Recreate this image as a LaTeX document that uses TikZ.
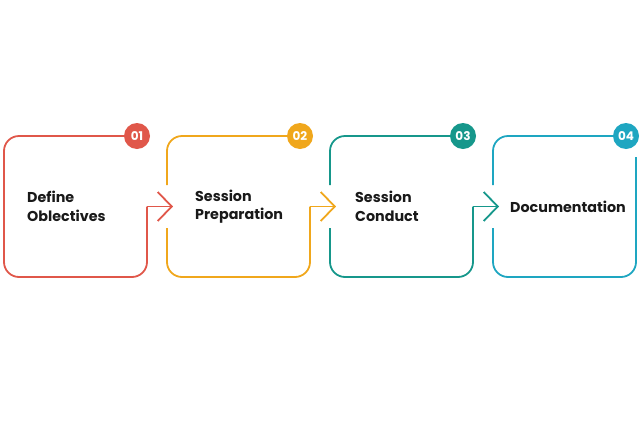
\documentclass[tikz,border=0pt]{standalone}
\usepackage{fontspec}
\setmainfont{Poppins}
\usepackage{tikz}
\usetikzlibrary{shapes,arrows.meta,positioning}
\definecolor{stepred}{HTML}{E0574A}
\definecolor{steporange}{HTML}{F0A71C}
\definecolor{stepteal}{HTML}{16978B}
\definecolor{stepblue}{HTML}{1EA6C1}
\tikzstyle{box} = [rectangle, minimum width=143pt, minimum height=141pt, inner sep=0pt, outer sep=0pt]
\tikzstyle{edge} = [line width=1.8pt, rounded corners=15pt]
\tikzstyle{arrow} = [line width=1.8pt, -{Straight Barb[length=14pt, width=29pt]}]
\tikzstyle{num} = [circle, minimum size=26pt, inner sep=0pt, text=white, font=\bfseries\fontsize{12}{12}\selectfont]
\tikzstyle{steptext} = [inner sep=0pt, align=left, text=black!90, font=\bfseries\fontsize{14.3}{18.5}\selectfont]

\begin{document}
\begin{tikzpicture}[x=1pt, y=-1pt, node distance=20pt]
        \useasboundingbox (0,0) rectangle (640,426);

        \node (b1) [box] at (75.5,206.5) {};
        \node (b2) [box, right=of b1] {};
        \node (b3) [box, right=of b2] {};
        \node (b4) [box, right=of b3] {};

        % box outlines
        \draw[edge, stepred] (b1.east) -- (b1.south east) -- (b1.south west) -- (b1.north west) -- ([xshift=-10pt]b1.north east);
        \draw[edge, steporange] (b2.east) -- (b2.south east) -- (b2.south west) -- ([yshift=-21.5pt]b2.west);
        \draw[edge, steporange] ([yshift=21.5pt]b2.west) -- (b2.north west) -- ([xshift=-10pt]b2.north east);
        \draw[edge, stepteal] (b3.east) -- (b3.south east) -- (b3.south west) -- ([yshift=-21.5pt]b3.west);
        \draw[edge, stepteal] ([yshift=21.5pt]b3.west) -- (b3.north west) -- ([xshift=-10pt]b3.north east);
        \draw[edge, stepblue] ([yshift=-21pt]b4.north east) -- (b4.south east) -- (b4.south west) -- ([yshift=-21.5pt]b4.west);
        \draw[edge, stepblue] ([yshift=21.5pt]b4.west) -- (b4.north west) -- ([xshift=-10pt]b4.north east);

        % arrows
        \draw[arrow, stepred] (b1.east) -- ([xshift=6pt]b2.west);
        \draw[arrow, steporange] (b2.east) -- ([xshift=6pt]b3.west);
        \draw[arrow, stepteal] (b3.east) -- ([xshift=6pt]b4.west);

        % numbers
        \node (c1) [num, fill=stepred] at ([xshift=-10pt]b1.north east) {01};
        \node (c2) [num, fill=steporange] at ([xshift=-10pt]b2.north east) {02};
        \node (c3) [num, fill=stepteal] at ([xshift=-10pt]b3.north east) {03};
        \node (c4) [num, fill=stepblue] at ([xshift=-10pt]b4.north east) {04};

        \node (t1) [steptext, right=23pt of b1.west] {Define\\Oblectives};
        \node (t2) [steptext, right=28pt of b2.west] {Session\\Preparation};
        \node (t3) [steptext, right=25pt of b3.west] {Session\\Conduct};
        \node (t4) [steptext, right=17pt of b4.west] {Documentation};
\end{tikzpicture}
\end{document}
